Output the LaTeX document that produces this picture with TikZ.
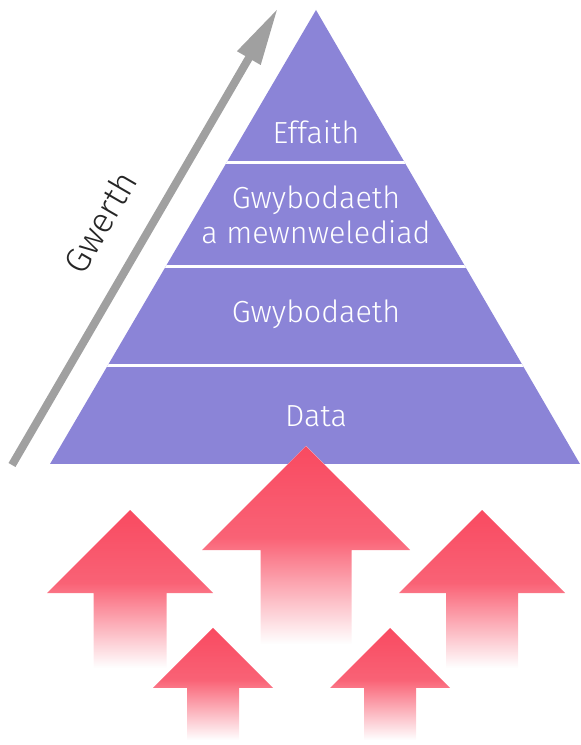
\documentclass[tikz,border=0pt]{standalone}
\usepackage{fontspec}
\setmainfont{Fira Sans Light}
\usetikzlibrary{arrows.meta}
\usetikzlibrary{fadings}
\definecolor{pyramid}{HTML}{8B84D7}
\definecolor{uparrow}{HTML}{F9475E}
\definecolor{valuegrey}{HTML}{A0A0A0}
\begin{tikzfadingfrompicture}[name = riseup]
  \path (-1, -1) rectangle (1, 1);
  \shade [top color = transparent!0, bottom color = transparent!100, middle color = transparent!15]
    (-1, -0.8) rectangle (1, 1);
\end{tikzfadingfrompicture}
\tikzset{band/.style = {white, line width = 3pt}}
\tikzset{bandtext/.style = {text = white, font = \fontsize{30.5}{35}\selectfont, align = center}}
\tikzset{rise/.style = {uparrow, path fading = riseup}}
\newcommand{\risepath}[5]{(#1, #2) -- (#1+#3, #2-#3) -- (#1+#4, #2-#3) -- (#1+#4, #5)
        -- (#1-#4, #5) -- (#1-#4, #2-#3) -- (#1-#3, #2-#3) -- cycle}
\newcommand{\risearrow}[5]{%
  \fill [white] \risepath{#1}{#2}{#3}{#4}{#5};
  \fill [rise] \risepath{#1}{#2}{#3}{#4}{#5};}

\begin{document}
\begin{tikzpicture}[x=1pt, y=1pt]
      \useasboundingbox (0, 0) rectangle (581, 745);

      \coordinate (apex) at (316, 735);
      \coordinate (baseL) at (50, 281);
      \coordinate (baseR) at (580, 281);
      \fill [pyramid] (apex) -- (baseR) -- (baseL) -- cycle;
      \begin{scope}
        \clip (apex) -- (baseR) -- (baseL) -- cycle;
        \foreach \y in {379, 478, 582}
          \draw [band] (0, \y) -- (581, \y);
      \end{scope}

      \node [bandtext] (effaith) at (316, 613) {Effaith};
      \node [bandtext] (mewn) at (316, 530) {Gwybodaeth\\a mewnwelediad};
      \node [bandtext] (gwyb) at (316, 431) {Gwybodaeth};
      \node [bandtext] (data) at (316, 329) {Data};

      \coordinate (low) at (12, 280);
      \coordinate (high) at (278, 737);
      \draw [valuegrey, line width = 8pt, -{Triangle[length = 58pt, width = 25pt]}] (low) -- (high);
      \node [rotate = 59.8, text = black!85, font = \fontsize{35}{40}\selectfont] (gwerth) at (100, 523) {Gwerth};

      \risearrow{130}{235}{83}{36.5}{70}
      \risearrow{482}{235}{83}{36}{70}
      \risearrow{306}{299}{104}{45.5}{92}
      \risearrow{213}{117}{60}{26}{0}
      \risearrow{390}{117}{60}{26}{0}
    \end{tikzpicture}
\end{document}
